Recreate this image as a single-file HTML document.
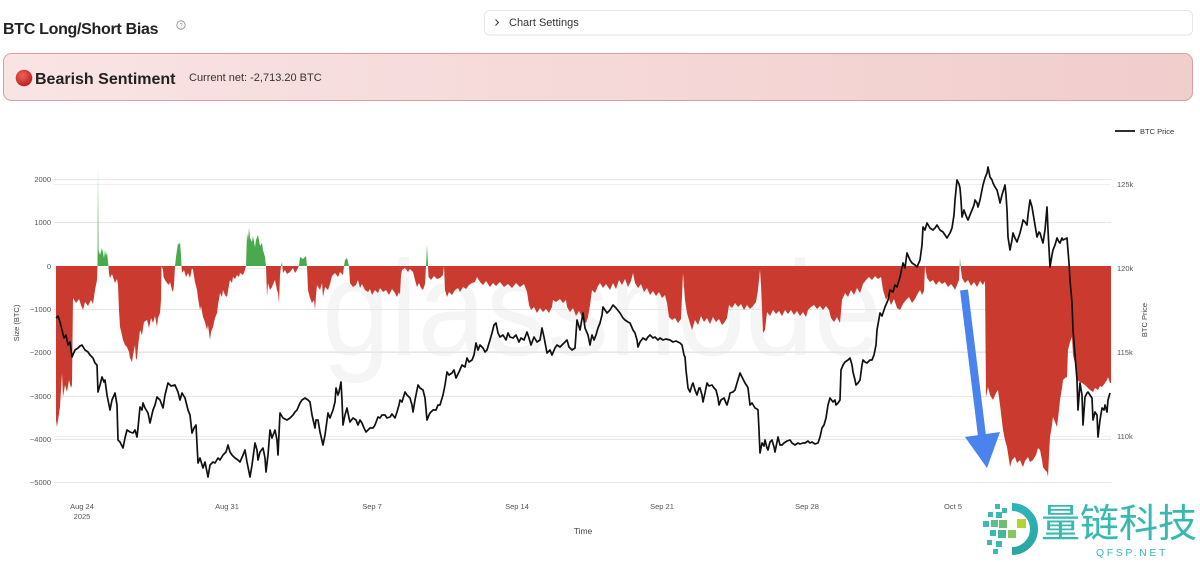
<!DOCTYPE html>
<html>
<head>
<meta charset="utf-8">
<style>
html,body{margin:0;padding:0;background:#fff;}
body{width:1200px;height:562px;overflow:hidden;font-family:"Liberation Sans","Noto Sans CJK SC",sans-serif;}
svg{display:block;}
</style>
</head>
<body>
<svg width="1200" height="562" viewBox="0 0 1200 562" xmlns="http://www.w3.org/2000/svg" font-family="Liberation Sans, Noto Sans CJK SC, sans-serif">
  <defs>
    <linearGradient id="ban" x1="0" y1="0" x2="1" y2="0">
      <stop offset="0" stop-color="#f9e4e4"/>
      <stop offset="1" stop-color="#f1cdcc"/>
    </linearGradient>
    <radialGradient id="dot" cx="0.4" cy="0.35" r="0.7">
      <stop offset="0" stop-color="#f0605a"/>
      <stop offset="1" stop-color="#b8201b"/>
    </radialGradient>
    <clipPath id="above"><rect x="0" y="0" width="1200" height="266"/></clipPath>
    <clipPath id="below"><rect x="0" y="266" width="1200" height="300"/></clipPath>
    <linearGradient id="arcg" x1="0" y1="0" x2="0" y2="1">
      <stop offset="0" stop-color="#2fb3b8"/>
      <stop offset="1" stop-color="#2aa7a0"/>
    </linearGradient>
    <path id="ap" d="M56,266 L56,420 57,427 60,407 62,373 63,397 65,385 67,392 69,380 71,388 72,385 73,298 76,303 79,299 81,305 83,310 85,302 88,306 91,300 93,304 95,290 97,280 97.5,266 98,167 98.5,250 100,255 102,248 104,258 105,250 106,256 107,252 108,262 108.5,266 109,274 110,278 112,274 115,283 117,279 118,285 119,310 120,327 122,335 123,340 125,345 127,347 129,352 130,358 132,362 133,355 135,345 136,360 137,358 138,347 140,330 142,335 144,322 147,320 149,328 151,318 153,323 155,316 157,327 158,318 160,313 161,300 161.5,266 163,270 163.5,277 165,280 167,283 169,285 170,282 172,290 173,292 174,285 175,266 176,257 177,250 178,243 179,245 180,242 181,255 181.5,266 182,273 184,270 186,277 188,273 190,278 192,268 193,270 195,282 197,290 198,298 200,310 201,306 203,317 205,322 207,330 208,325 210,340 211,332 213,327 215,318 217,313 218,305 220,293 222,297 223,290 225,295 227,297 229,285 230,280 232,283 233,277 235,279 237,275 239,277 240,273 243,275 245,270 246,266 247,233 248,240 249,228 250,238 252,242 253,236 255,247 256,240 258,235 260,246 262,243 263,250 265,257 266,266 267,297 268,283 270,290 272,287 274,282 275,280 277,290 278,293 279,303 280,275 281,266 282,262 283,273 285,270 287,274 290,272 293,268 295,273 297,270 299,266 300,257 303,259 306,256 307,266 308,290 310,298 312,303 314,300 315,310 316,296 317,285 320,290 322,283 323,297 325,287 328,290 330,284 332,276 335,273 338,277 340,272 343,275 344,266 345,260 347,258 348,262 349,266 350,283 353,287 356,285 358,280 360,288 362,284 365,290 368,292 370,289 372,295 375,290 378,293 380,288 383,292 386,290 389,295 392,289 395,293 397,297 399,292 400,295 401,275 402,270 405,268 408,272 410,269 413,272 415,280 417,287 419,283 421,288 423,290 425,284 426,266 427,245 428,266 428.5,277 431,280 434,276 437,279 440,278 443,275 444,266 445,290 447,297 449,292 452,295 455,290 458,288 460,292 463,287 466,289 469,285 472,283 475,282 477,277 480,282 483,285 486,281 490,287 493,283 496,286 500,282 504,287 508,284 512,288 516,283 520,287 524,284 527,292 529,305 531,310 534,307 537,313 540,308 543,312 546,309 549,313 552,307 553,300 556,302 560,299 563,303 566,300 567,307 570,312 573,308 576,316 579,311 582,317 584,322 586,323 588,317 590,305 592,290 595,293 598,286 600,283 603,288 606,284 610,290 613,283 616,289 619,280 622,285 625,279 628,287 631,281 633,273 635,283 638,288 641,284 644,292 647,288 650,295 653,291 656,296 659,292 662,298 665,295 667,303 669,317 672,320 675,318 678,323 681,319 683,273 685,300 687,313 689,320 692,330 695,320 698,325 701,316 704,322 707,318 710,324 713,317 716,322 719,319 722,325 724,323 727,318 729,305 732,308 735,303 738,307 741,304 744,310 747,305 750,309 753,306 756,302 758,290 760,270 761,285 763,333 765,330 767,312 770,316 773,310 776,314 779,311 782,316 785,310 788,314 791,310 794,315 797,311 800,316 803,312 806,317 808,310 811,307 814,305 817,309 820,306 823,310 826,306 829,310 831,318 834,322 837,317 840,323 842,300 845,293 848,297 851,290 854,295 857,288 860,293 863,284 866,280 869,277 872,280 875,276 878,279 881,277 883,290 886,300 888,296 891,305 894,299 897,308 900,310 903,304 906,300 909,297 912,303 915,299 918,293 920,290 922,295 924,291 925,266 927,278 930,282 933,280 936,285 939,281 942,284 945,282 948,287 951,284 954,288 955,290 957,285 959,280 960,258 961,270 962,278 965,283 968,280 971,286 974,282 977,287 980,281 983,285 985,281 986,397 988,387 990,395 993,400 996,393 998,390 1000,405 1003,430 1005,440 1007,447 1009,460 1010,467 1012,460 1015,457 1017,463 1020,460 1022,465 1023,467 1025,461 1028,457 1030,462 1033,460 1036,455 1038,448 1040,450 1042,460 1043,467 1045,470 1047,472 1048,477 1049,455 1050,437 1052,425 1053,417 1055,422 1057,427 1059,410 1060,400 1062,388 1063,380 1065,378 1067,377 1068,350 1070,342 1072,337 1073,355 1075,363 1077,380 1080,382 1082,383 1085,385 1087,387 1090,390 1093,392 1095,388 1098,390 1100,386 1102,387 1105,383 1107,380 1108,377 1110,383 1111,383 1111,266 Z"/>
  </defs>

  <!-- Header -->
  <text x="3" y="34" font-size="16" font-weight="bold" fill="#222" letter-spacing="-0.3">BTC Long/Short Bias</text>
  <circle cx="181" cy="25" r="4.2" fill="none" stroke="#888" stroke-width="0.8"/>
  <text x="181" y="27.3" font-size="6" fill="#888" text-anchor="middle">?</text>

  <rect x="484.5" y="10.5" width="708" height="24.5" rx="5" fill="#fff" stroke="#e6e6e6"/>
  <polyline points="495.5,19.5 498.5,22.5 495.5,25.5" fill="none" stroke="#333" stroke-width="1"/>
  <text x="509" y="26" font-size="11" fill="#333">Chart Settings</text>

  <rect x="3.5" y="53.5" width="1189" height="47" rx="8" fill="url(#ban)" stroke="#d8a2a0"/>
  <circle cx="24" cy="78" r="8.3" fill="url(#dot)"/>
  <text x="35" y="84" font-size="16" font-weight="bold" fill="#222">Bearish Sentiment</text>
  <text x="189" y="81" font-size="11" fill="#333">Current net: -2,713.20 BTC</text>

  <!-- Watermark -->
  <text x="322" y="355" font-size="135" fill="#f5f5f5" textLength="560" lengthAdjust="spacingAndGlyphs">glassnode</text>

  <!-- Gridlines left axis -->
  <g stroke="#e6e6e6" stroke-width="1">
    <line x1="54" y1="179.5" x2="1111" y2="179.5"/>
    <line x1="54" y1="222.5" x2="1111" y2="222.5"/>
    <line x1="54" y1="309.5" x2="1111" y2="309.5"/>
    <line x1="54" y1="352.5" x2="1111" y2="352.5"/>
    <line x1="54" y1="396.5" x2="1111" y2="396.5"/>
    <line x1="54" y1="439.5" x2="1111" y2="439.5"/>
    <line x1="54" y1="482.5" x2="1111" y2="482.5"/>
  </g>
  <g stroke="#eeeeee" stroke-width="1">
    <line x1="54" y1="184.5" x2="1111" y2="184.5"/>
    <line x1="54" y1="268.5" x2="1111" y2="268.5"/>
    <line x1="54" y1="351.5" x2="1111" y2="351.5"/>
    <line x1="54" y1="436.5" x2="1111" y2="436.5"/>
  </g>

  <!-- Area -->
  <use href="#ap" fill="#cb3a2f" clip-path="url(#below)"/>
  <use href="#ap" fill="#4aa84d" clip-path="url(#above)"/>

  <!-- Price line -->
  <polyline fill="none" stroke="#111" stroke-width="1.7" stroke-linejoin="round" points="56,318 58,316 60,322 62,330 64,338 66,335 68,345 70,342 72,357 75,350 78,348 80,346 82,345 85,350 88,352 90,355 93,358 95,363 97,365 98,392 100,385 102,377 104,382 105,380 107,395 110,410 112,400 115,393 117,405 118,440 120,442 123,448 125,438 127,430 130,432 133,433 135,430 137,437 138,428 140,407 142,410 143,403 145,408 148,413 150,423 153,410 155,405 157,397 160,400 163,408 165,395 168,383 171,386 175,385 178,392 180,400 182,393 185,398 188,410 190,415 192,433 194,428 196,425 198,463 200,458 203,468 205,462 208,477 210,465 213,462 215,463 218,458 220,460 223,455 226,452 228,445 230,452 232,455 235,458 238,460 240,462 243,455 245,450 247,462 250,477 252,465 255,443 257,450 258,460 260,452 263,448 265,458 266,472 268,455 270,430 272,438 275,430 277,440 278,455 280,413 283,418 287,420 290,418 293,415 295,412 297,410 300,403 302,400 305,398 308,400 310,402 312,415 315,428 316,420 318,420 320,432 323,445 325,435 328,413 330,418 333,410 335,402 336,388 338,395 339,392 341,382 342,400 343,425 345,415 347,408 349,418 350,422 353,418 356,420 358,425 360,420 362,423 364,428 366,432 368,430 370,428 373,428 375,425 378,417 380,418 382,415 385,415 387,418 390,417 392,414 395,418 397,412 399,405 400,400 402,402 405,392 407,395 410,398 412,405 413,412 415,400 418,385 420,388 423,390 425,398 427,420 429,415 430,413 433,410 436,410 438,405 440,405 443,395 445,385 447,372 449,375 452,373 454,370 456,378 459,372 462,365 465,367 467,358 469,362 472,360 474,355 476,343 478,350 480,345 483,348 485,352 487,350 490,340 492,333 494,325 496,323 498,333 500,337 503,335 506,340 508,333 510,337 513,338 516,335 519,342 521,338 524,340 527,332 529,338 531,345 534,337 537,342 540,340 542,328 544,337 547,353 550,350 552,355 555,348 557,345 560,347 562,345 565,342 567,340 569,347 572,350 575,348 577,320 580,330 583,313 585,328 588,335 590,345 592,335 594,340 596,335 598,328 600,323 602,315 603,307 605,310 607,313 610,310 613,305 616,308 620,313 623,318 625,320 628,322 630,323 633,330 635,333 637,340 638,347 640,342 643,338 646,340 648,337 650,335 653,338 655,337 658,340 660,338 663,340 666,339 670,340 673,342 676,341 680,343 682,345 684,355 685,357 686,370 688,388 690,392 692,385 693,383 695,390 697,395 699,388 700,388 702,395 703,402 705,393 707,383 709,386 712,385 714,388 716,390 718,398 719,405 721,400 724,398 726,403 727,405 729,398 730,393 733,392 735,390 737,383 740,373 742,377 745,383 747,386 748,388 750,405 752,403 755,408 757,409 758,410 759,430 760,453 762,443 764,446 765,440 767,448 768,450 770,442 772,440 774,447 775,452 777,442 778,437 780,445 782,445 784,443 787,441 790,440 792,443 795,445 798,443 800,444 803,443 805,443 808,441 810,443 812,442 815,444 818,443 820,437 822,428 824,425 826,418 828,405 830,398 833,402 835,400 836,405 838,403 840,400 841,370 843,365 845,362 848,360 850,358 852,365 853,372 855,380 856,385 858,383 860,380 862,365 863,360 865,362 867,363 870,360 872,360 874,355 876,345 877,330 880,313 882,316 885,307 888,300 890,290 893,292 895,285 897,287 900,277 903,263 905,268 907,253 910,260 912,263 915,265 917,267 920,260 922,245 923,227 925,230 927,223 930,228 933,230 935,228 937,225 940,230 943,232 945,235 947,238 950,233 952,228 954,215 955,200 957,180 959,184 960,188 961,200 962,217 964,210 965,213 967,218 968,220 970,215 972,210 974,205 975,200 977,203 978,207 980,200 982,190 983,185 985,178 987,173 988,167 989,172 990,177 992,180 993,183 995,187 997,190 999,198 1000,203 1002,195 1005,185 1006,195 1007,210 1008,237 1010,250 1012,240 1013,233 1015,238 1017,242 1019,236 1020,233 1022,225 1023,220 1025,222 1027,225 1028,215 1030,200 1032,207 1033,213 1035,225 1037,237 1039,232 1040,233 1042,240 1043,243 1045,230 1047,207 1048,230 1050,267 1052,255 1053,250 1055,245 1057,238 1059,242 1060,243 1062,238 1063,240 1065,239 1067,238 1069,263 1070,280 1072,303 1073,330 1075,355 1077,380 1078,410 1080,383 1082,395 1083,425 1085,397 1087,393 1088,392 1090,395 1092,398 1093,420 1095,412 1097,415 1098,437 1100,420 1102,408 1104,410 1105,405 1107,412 1108,400 1110,393"/>

  <!-- Blue arrow -->
  <line x1="964" y1="290" x2="982" y2="436" stroke="#4a82ee" stroke-width="8"/>
  <polygon points="965,437 1000,432 987,468" fill="#4a82ee"/>

  <!-- Left axis ticks -->
  <g font-size="7.5" fill="#555" text-anchor="end">
    <text x="51" y="182">2000</text>
    <text x="51" y="225">1000</text>
    <text x="51" y="269">0</text>
    <text x="51" y="312">−1000</text>
    <text x="51" y="355">−2000</text>
    <text x="51" y="399">−3000</text>
    <text x="51" y="442">−4000</text>
    <text x="51" y="485">−5000</text>
  </g>
  <!-- Right axis ticks -->
  <g font-size="7.5" fill="#555">
    <text x="1117" y="187">125k</text>
    <text x="1117" y="271">120k</text>
    <text x="1117" y="355">115k</text>
    <text x="1117" y="439">110k</text>
  </g>
  <!-- X ticks -->
  <g font-size="7.5" fill="#555" text-anchor="middle">
    <text x="82" y="509">Aug 24</text>
    <text x="82" y="519">2025</text>
    <text x="227" y="509">Aug 31</text>
    <text x="372" y="509">Sep 7</text>
    <text x="517" y="509">Sep 14</text>
    <text x="662" y="509">Sep 21</text>
    <text x="807" y="509">Sep 28</text>
    <text x="953" y="509">Oct 5</text>
  </g>
  <text x="583" y="534" font-size="8.5" fill="#444" text-anchor="middle">Time</text>
  <text transform="translate(19,323) rotate(-90)" font-size="7.5" fill="#444" text-anchor="middle">Size (BTC)</text>
  <text transform="translate(1147,320) rotate(-90)" font-size="7.5" fill="#444" text-anchor="middle">BTC Price</text>

  <!-- Legend -->
  <line x1="1115" y1="131" x2="1135" y2="131" stroke="#111" stroke-width="1.8"/>
  <text x="1140" y="134" font-size="7.5" fill="#333">BTC Price</text>

  <!-- Logo -->
  <g>
    <path d="M1012,507 A22,22 0 0 1 1012,551" fill="none" stroke="url(#arcg)" stroke-width="8"/>
    <rect x="995" y="504" width="5" height="5" fill="#3bb9b2"/>
    <rect x="1002" y="508" width="5" height="5" fill="#3bb9b2"/>
    <rect x="988" y="512" width="5" height="5" fill="#3bb9b2"/>
    <rect x="996" y="512" width="6" height="6" fill="#3bb9b2"/>
    <rect x="983" y="521" width="6" height="6" fill="#3bb9b2"/>
    <rect x="991" y="520" width="7" height="7" fill="#5cc08a"/>
    <rect x="999" y="520" width="8" height="8" fill="#6cc070"/>
    <rect x="1017" y="519" width="9" height="9" fill="#b5d334"/>
    <rect x="990" y="530" width="6" height="6" fill="#3bb9b2"/>
    <rect x="998" y="530" width="8" height="8" fill="#44b89a"/>
    <rect x="1008" y="530" width="8" height="8" fill="#86c65a"/>
    <rect x="987" y="540" width="5" height="5" fill="#3bb9b2"/>
    <rect x="996" y="541" width="6" height="6" fill="#3bb9b2"/>
    <rect x="993" y="549" width="5" height="5" fill="#3bb9b2"/>
    <text x="1041" y="537" font-size="39" fill="#36b9b0" font-family="Noto Sans CJK SC, WenQuanYi Zen Hei, sans-serif">量链科技</text>
    <text x="1096" y="556" font-size="10.5" fill="#36b9b0" letter-spacing="2.6">QFSP.NET</text>
  </g>
</svg>
</body>
</html>
